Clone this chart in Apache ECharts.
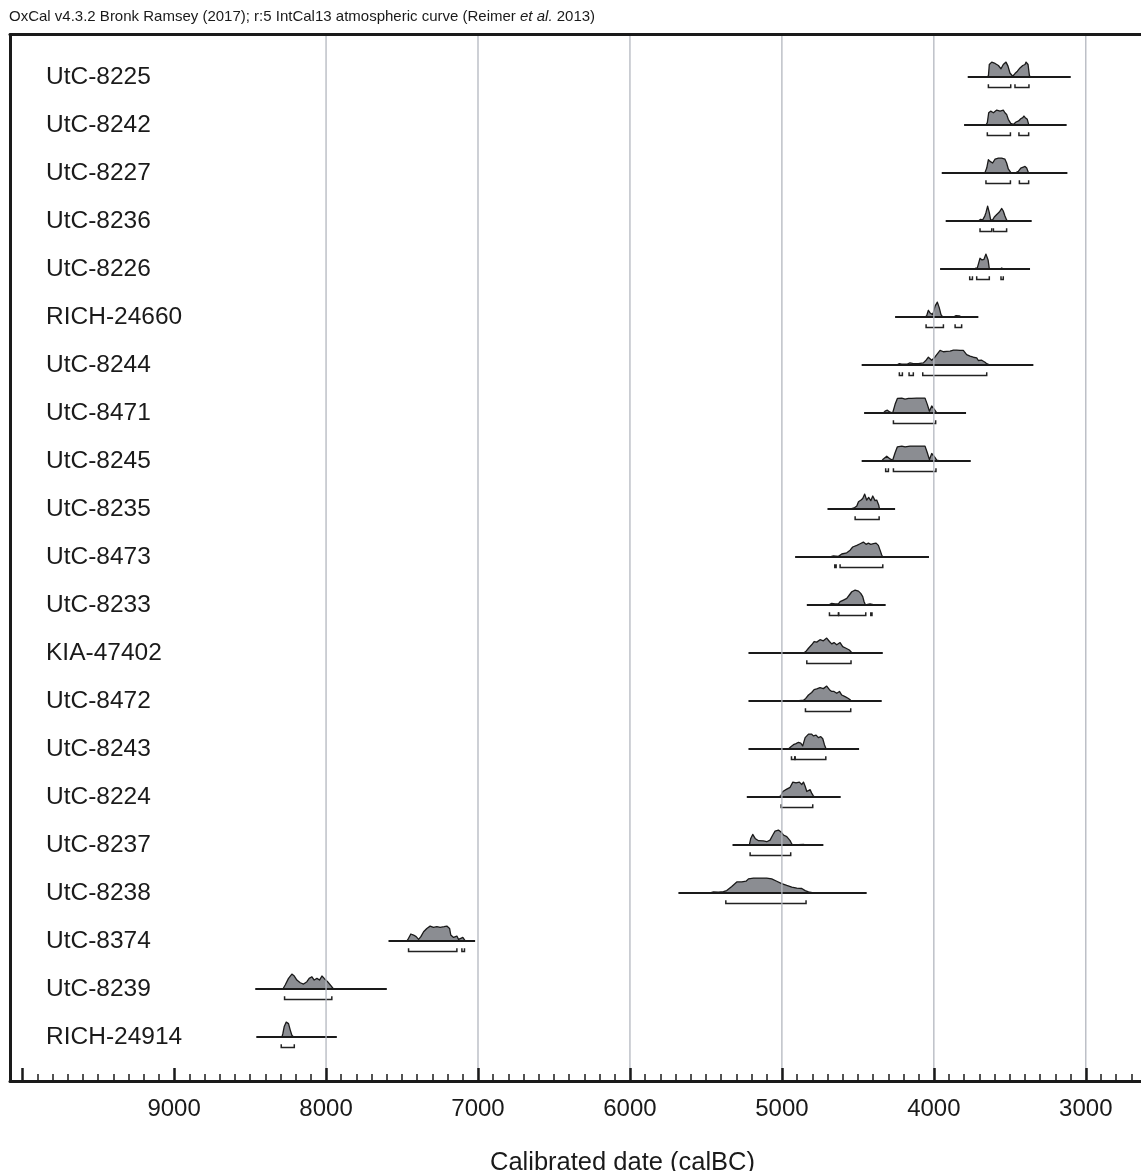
<!DOCTYPE html>
<html>
<head>
<meta charset="utf-8">
<script src="https://cdn.jsdelivr.net/npm/echarts@6/dist/echarts.min.js"></script>
<style>
html,body{margin:0;padding:0;background:#fff;}
#chart{width:1141px;height:1171px;}
</style>
</head>
<body>
<div id="chart"></div>
<script>
// ---------- DATA ----------
const headerText = 'OxCal v4.3.2 Bronk Ramsey (2017); r:5 IntCal13 atmospheric curve (Reimer {it|et al.} 2013)';
const axisTitle = 'Calibrated date (calBC)';

const samples = ['UtC-8225','UtC-8242','UtC-8227','UtC-8236','UtC-8226','RICH-24660','UtC-8244','UtC-8471',
  'UtC-8245','UtC-8235','UtC-8473','UtC-8233','KIA-47402','UtC-8472','UtC-8243','UtC-8224','UtC-8237',
  'UtC-8238','UtC-8374','UtC-8239','RICH-24914'];

// extent of the horizontal line of each plotted distribution (calBC)
const rangeStart = [3777,3801,3948,3922,3959,4255,4475,4459,4475,4700,4913,4836,5220,5220,5220,5231,5325,5681,7589,8466,8459];
const rangeEnd   = [3099,3126,3121,3356,3367,3707,3345,3788,3757,4255,4032,4317,4336,4343,4492,4613,4727,4442,7019,7600,7929];

// probability distributions: [year calBC, relative probability]
const d_UtC_8225 = [[3657,0],[3641,.05],[3635,.84],[3619,1],[3597,.91],[3575,.77],[3558,.55],[3543,.84],[3525,1],[3512,.73],[3499,.27],[3481,.05],[3466,.23],[3450,.39],[3433,.61],[3415,.77],[3400,.84],[3393,1],[3380,.84],[3371,.09],[3363,0]];
const d_UtC_8242 = [[3657,0],[3648,.16],[3639,.82],[3626,.93],[3608,.82],[3586,1],[3564,.93],[3543,1],[3532,.82],[3521,.71],[3510,.38],[3494,.11],[3477,.04],[3459,.2],[3442,.27],[3428,.42],[3415,.49],[3407,.6],[3398,.49],[3385,.38],[3376,.04],[3367,0]];
const d_UtC_8227 = [[3696,0],[3663,.04],[3652,.33],[3641,.89],[3630,.78],[3613,.67],[3597,.93],[3575,1],[3554,1],[3532,.93],[3521,.67],[3510,.27],[3494,.04],[3466,0],[3444,.11],[3428,.33],[3411,.4],[3400,.44],[3389,.33],[3378,.04],[3367,0]];
const d_UtC_8236 = [[3707,0],[3692,.11],[3679,.07],[3665,.33],[3657,.56],[3646,1],[3635,.56],[3626,.07],[3613,.07],[3602,.27],[3586,.44],[3569,.6],[3553,.84],[3543,.67],[3532,.33],[3521,.07],[3510,0]];
const d_UtC_8226 = [[3773,0],[3729,.04],[3714,.07],[3705,.39],[3696,.72],[3683,.61],[3670,.65],[3657,1],[3643,.61],[3635,.02],[3619,0],[3564,0],[3553,.07],[3543,0]];
const d_RICH_24660 = [[4058,0],[4047,.09],[4036,.45],[4025,.27],[4007,.16],[3992,.73],[3977,1],[3964,.61],[3953,.16],[3942,0],[3871,0],[3854,.09],[3832,.07],[3817,0]];
const d_UtC_8244 = [[4244,0],[4227,.09],[4211,.05],[4178,.05],[4157,.14],[4135,.09],[4102,.09],[4069,.14],[4051,.32],[4036,.52],[4014,.32],[3997,.48],[3981,.7],[3959,.98],[3937,.89],[3915,.91],[3893,.93],[3871,1],[3850,1],[3828,.98],[3806,.98],[3784,.7],[3762,.59],[3740,.52],[3718,.48],[3707,.3],[3685,.32],[3663,.18],[3652,.09],[3630,0]];
const d_UtC_8471 = [[4332,0],[4321,.12],[4306,.19],[4288,.05],[4271,0],[4255,.58],[4240,.98],[4211,1],[4189,.93],[4167,.98],[4146,.98],[4113,1],[4058,1],[4043,.58],[4029,.12],[4014,.47],[3999,.28],[3981,0],[3959,0]];
const d_UtC_8245 = [[4343,0],[4332,.14],[4310,.32],[4288,.14],[4271,.05],[4255,.55],[4240,.95],[4211,1],[4189,.95],[4157,1],[4113,1],[4058,1],[4043,.55],[4029,.09],[4014,.5],[3999,.32],[3981,.05],[3959,0]];
const d_UtC_8235 = [[4547,0],[4525,.07],[4507,.2],[4496,.49],[4479,.6],[4468,.71],[4455,1],[4442,.6],[4429,.78],[4415,.56],[4402,.87],[4387,.56],[4376,.6],[4363,.27],[4358,0]];
const d_UtC_8473 = [[4683,0],[4661,.07],[4628,.04],[4606,.2],[4573,.28],[4551,.46],[4534,.67],[4507,.78],[4485,.89],[4464,1],[4446,.85],[4431,.93],[4415,.85],[4398,.89],[4380,.93],[4365,.78],[4354,.46],[4343,.13],[4336,0]];
const d_UtC_8233 = [[4694,0],[4672,.11],[4650,.07],[4628,.07],[4617,.22],[4595,.33],[4573,.44],[4556,.67],[4540,.89],[4518,1],[4496,.93],[4481,.78],[4468,.56],[4459,.22],[4450,0],[4420,.07],[4398,.02],[4387,0]];
const d_KIA_47402 = [[4858,0],[4843,.09],[4825,.32],[4804,.55],[4788,.77],[4771,.73],[4749,.89],[4727,.82],[4705,1],[4687,.77],[4672,.61],[4657,.7],[4639,.55],[4617,.7],[4600,.43],[4578,.32],[4556,.2],[4540,.02],[4529,0]];
const d_UtC_8472 = [[4902,0],[4858,.05],[4843,.17],[4825,.4],[4804,.57],[4788,.76],[4771,.81],[4749,.9],[4727,.83],[4705,1],[4687,.76],[4672,.64],[4657,.64],[4639,.52],[4621,.64],[4606,.4],[4584,.29],[4562,.17],[4547,.05],[4534,0]];
const d_UtC_8243 = [[4957,0],[4939,.17],[4924,.29],[4907,.36],[4891,.45],[4876,.4],[4863,.21],[4847,.76],[4825,1],[4804,1],[4793,.88],[4775,.93],[4760,.76],[4744,.83],[4731,.69],[4720,.29],[4711,.05],[4705,0]];
const d_UtC_8224 = [[5023,0],[5007,.07],[4994,.37],[4968,.53],[4946,.65],[4928,1],[4907,.95],[4885,1],[4869,.84],[4858,1],[4847,.72],[4836,.37],[4814,.49],[4804,.26],[4793,.07],[4782,0]];
const d_UtC_8237 = [[5214,0],[5205,.44],[5192,.71],[5176,.44],[5154,.29],[5122,.27],[5100,.22],[5078,.33],[5060,.67],[5045,.93],[5023,1],[5007,.89],[4990,.67],[4968,.56],[4946,.29],[4935,.07],[4924,0],[4858,.04],[4847,0]];
const d_UtC_8238 = [[5472,0],[5450,.07],[5418,.05],[5385,.09],[5363,.16],[5330,.44],[5297,.74],[5264,.74],[5236,.79],[5220,.95],[5187,1],[5143,1],[5100,1],[5067,.95],[5034,.79],[5001,.63],[4968,.51],[4935,.4],[4902,.33],[4869,.3],[4847,.16],[4825,.07],[4793,0]];
const d_UtC_8374 = [[7468,0],[7457,.18],[7442,.47],[7424,.4],[7407,.29],[7391,.11],[7376,.29],[7358,.62],[7337,.84],[7315,1],[7293,.91],[7271,.96],[7249,.91],[7223,.96],[7205,1],[7187,.84],[7179,.4],[7161,.24],[7139,.33],[7128,.11],[7113,.18],[7100,.24],[7084,0]];
const d_UtC_8239 = [[8284,0],[8269,.27],[8247,.71],[8225,1],[8209,.87],[8192,.6],[8170,.42],[8148,.33],[8126,.49],[8111,.71],[8093,.82],[8078,.6],[8060,.71],[8043,.6],[8027,.87],[8012,.71],[7990,.49],[7972,.27],[7951,0]];
const d_RICH_24914 = [[8290,0],[8284,.24],[8275,.71],[8262,1],[8247,.9],[8236,.48],[8225,.12],[8214,0]];

const densities = [d_UtC_8225,d_UtC_8242,d_UtC_8227,d_UtC_8236,d_UtC_8226,d_RICH_24660,d_UtC_8244,d_UtC_8471,
  d_UtC_8245,d_UtC_8235,d_UtC_8473,d_UtC_8233,d_KIA_47402,d_UtC_8472,d_UtC_8243,d_UtC_8224,d_UtC_8237,
  d_UtC_8238,d_UtC_8374,d_UtC_8239,d_RICH_24914];

// 95.4% probability ranges (brackets), calBC
const ranges95 = [
  [[3641,3494],[3466,3374]],
  [[3648,3496],[3440,3376]],
  [[3657,3496],[3437,3376]],
  [[3696,3619],[3608,3521]],
  [[3764,3746],[3718,3635],[3558,3543]],
  [[4051,3937],[3860,3817]],
  [[4227,4207],[4163,4135],[4073,3652]],
  [[4266,3988]],
  [[4317,4299],[4266,3986]],
  [[4518,4360]],
  [[4652,4643],[4617,4336]],
  [[4687,4628],[4626,4448],[4415,4407]],
  [[4836,4545]],
  [[4845,4547]],
  [[4937,4915],[4913,4711]],
  [[5005,4797]],
  [[5209,4942]],
  [[5369,4841]],
  [[7457,7139],[7106,7089]],
  [[8273,7962]],
  [[8295,8209]]
];

// axis ticks / labels / grid lines
const tickLabels = [9000,8000,7000,6000,5000,4000,3000];
const majorTicks = [10000,9000,8000,7000,6000,5000,4000,3000];
const minorTicks = [];
for (let y = 10000; y >= 2100; y -= 100) { if (y % 1000 !== 0) minorTicks.push(y); }
const gridValues = [8000,7000,6000,5000,4000,3000];

// ---------- CHART ----------
const FONT = '"Liberation Sans", Arial, Helvetica, sans-serif';
const INK = '#1a1a1a';
const X_MIN = 2018, X_MAX = 10080;   // plot frame continues past the right edge of the picture
const PEAK = 0.31;       // peak height in row units
const chart = echarts.init(document.getElementById('chart'), null, {renderer: 'canvas'});

function renderDist(params, api) {
  const i = params.dataIndex;
  const cs = params.coordSys;
  const row = i;
  const p0 = api.coord([rangeStart[i], row]);
  const p1 = api.coord([rangeEnd[i], row]);
  const pts = densities[i].map(d => api.coord([d[0], row - d[1] * PEAK]));
  const children = [];
  children.push({type: 'polygon', shape: {points: pts},
    style: {fill: '#8b8d92', stroke: INK, lineWidth: 1.3, lineJoin: 'round'}});
  children.push({type: 'line', shape: {x1: p0[0], y1: p0[1], x2: p1[0], y2: p1[1]},
    style: {stroke: INK, lineWidth: 2}});
  ranges95[i].forEach(b => {
    const a = api.coord([b[0], row + 0.22]);
    const c = api.coord([b[1], row + 0.22]);
    const t = api.coord([b[0], row + 0.15]);
    children.push({type: 'polyline',
      shape: {points: [[a[0], t[1]], [a[0], a[1]], [c[0], c[1]], [c[0], t[1]]]},
      style: {stroke: '#222', lineWidth: 1.5, fill: null}});
  });
  children.push({type: 'text', x: cs.x + 36, y: p0[1],
    style: {text: samples[i], fontSize: 24.5, fontFamily: FONT, fill: INK, align: 'left', verticalAlign: 'middle'}});
  return {type: 'group', children};
}

function renderGrid(params, api) {
  const cs = params.coordSys;
  const x = api.coord([gridValues[params.dataIndex], 0])[0];
  return {type: 'line', shape: {x1: x, y1: cs.y, x2: x, y2: cs.y + cs.height},
    style: {stroke: '#b3b7bf', lineWidth: 1.3}};
}

const option = {
  backgroundColor: '#ffffff',
  animation: false,
  title: {
    text: headerText, left: 9, top: 9, padding: 0,
    textStyle: {fontSize: 15, fontWeight: 'normal', color: INK, fontFamily: FONT,
      rich: {it: {fontStyle: 'italic', fontSize: 15, fontFamily: FONT, color: INK}}}
  },
  grid: {left: 10, width: 1225, top: 34.5, bottom: 90, containLabel: false, outerBoundsMode: 'none'},
  xAxis: [
    {type: 'value', inverse: true, min: X_MIN, max: X_MAX, position: 'bottom', z: 10,
      axisLine: {show: true, onZero: false, lineStyle: {color: INK, width: 3}},
      axisTick: {show: true, inside: true, length: 13, customValues: majorTicks, lineStyle: {color: INK, width: 2.5}},
      axisLabel: {show: true, customValues: tickLabels, fontSize: 24, margin: 16, color: INK, fontFamily: FONT,
        formatter: v => String(v)},
      splitLine: {show: false},
      name: axisTitle, nameLocation: 'middle', nameGap: 69,
      nameTextStyle: {fontSize: 25.5, color: INK, fontFamily: FONT}},
    {type: 'value', inverse: true, min: X_MIN, max: X_MAX, position: 'bottom', z: 10,
      axisLine: {show: false, onZero: false},
      axisTick: {show: true, inside: true, length: 7, customValues: minorTicks, lineStyle: {color: INK, width: 1.5}},
      axisLabel: {show: false}, splitLine: {show: false}},
    {type: 'value', inverse: true, min: X_MIN, max: X_MAX, position: 'top', z: 10,
      axisLine: {show: true, onZero: false, lineStyle: {color: INK, width: 3}},
      axisTick: {show: false}, axisLabel: {show: false}, splitLine: {show: false}}
  ],
  yAxis: {type: 'value', inverse: true, min: -0.885, max: 20.917, z: 10,
    axisLine: {show: true, onZero: false, lineStyle: {color: INK, width: 3}},
    axisTick: {show: false}, axisLabel: {show: false}, splitLine: {show: false}},
  series: [
    {type: 'custom', name: 'dist', renderItem: renderDist, clip: false,
      data: samples.map((s, i) => [rangeStart[i], rangeEnd[i], i]),
      encode: {x: [0, 1], y: 2}, z: 2},
    {type: 'custom', name: 'grid', renderItem: renderGrid, silent: true,
      data: gridValues.map(v => [v, 0]), encode: {x: 0, y: 1}, z: 3}
  ]
};
chart.setOption(option);
</script>
</body>
</html>
